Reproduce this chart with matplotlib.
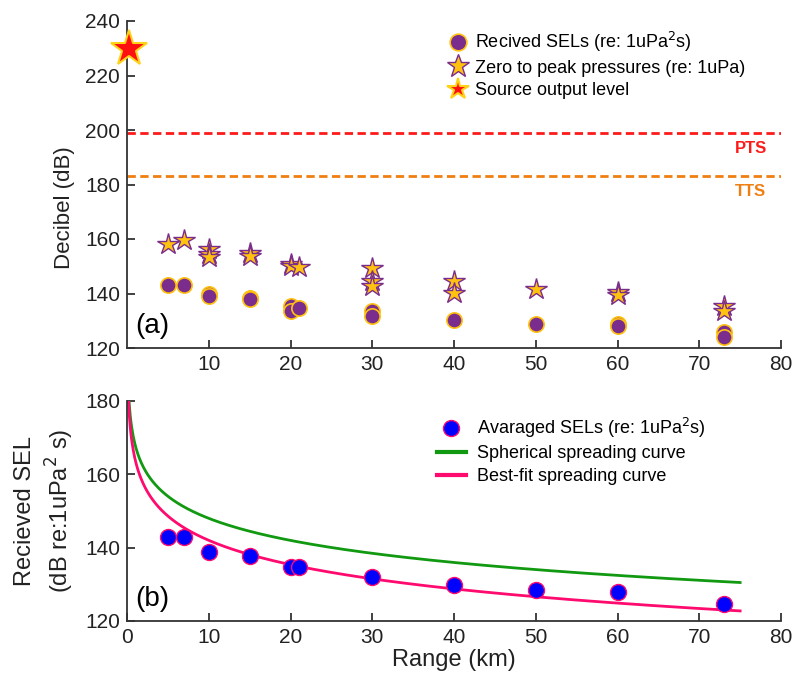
import numpy as np
import matplotlib
matplotlib.use("Agg")
import matplotlib.pyplot as plt

plt.rcParams['font.family'] = ['Liberation Sans', 'DejaVu Sans']

# ---------------- data ----------------
# Panel (a): received SELs (re: 1uPa^2 s)
sel_range = [5, 7, 10, 10, 15, 15, 20, 20, 21, 30, 30, 40, 50, 60, 60, 73, 73]
sel_value = [143.2, 143.2, 139.7, 139.0, 138.4, 137.9, 135.4, 133.6, 134.8,
             133.4, 131.8, 130.1, 128.8, 128.8, 128.0, 125.8, 123.9]
# Panel (a): zero-to-peak pressures (re: 1uPa)
pk_range = [5, 7, 10, 10, 10, 15, 15, 20, 20, 21, 30, 30, 30, 40, 40, 50, 60, 60, 73, 73]
pk_value = [158.3, 159.5, 156.2, 154.5, 153.3, 155.0, 153.8, 150.8, 150.2, 149.6,
            149.5, 144.6, 142.8, 144.6, 140.2, 141.8, 140.4, 139.3, 135.3, 133.6]
# Source output level
src_range = [0.3]
src_value = [229.8]
# Thresholds
pts_level = 199.0
tts_level = 183.0

# Panel (b): averaged SELs
avg_range = [5, 7, 10, 15, 20, 21, 30, 40, 50, 60, 73]
avg_value = [143.0, 142.8, 138.9, 137.6, 134.7, 134.8, 132.0, 129.7, 128.5, 128.0, 124.7]
# Spreading-curve parameters: SL - k*log10(r[m])
sph_sl, sph_k = 228.0, 20.0
fit_sl, fit_k = 230.0, 22.0
curve_max_range = 75.0

# ---------------- colours ----------------
purple = '#7B2D8E'
gold = '#FFC20E'
red = '#FF1A1A'
orange = '#F07F12'
blue = '#0000FF'
pink = '#FF0A6E'
green = '#119911'
spine_c = '#333333'
text_c = '#222222'

fig = plt.figure(figsize=(7.96, 6.77), dpi=100)
W, H = 796, 677
ax1 = fig.add_axes([127/W, 1-348/H, (781-127)/W, (348-21)/H])
ax2 = fig.add_axes([127/W, 1-621/H, (781-127)/W, (621-401)/H])

def style(ax):
    for s in ['top', 'right']:
        ax.spines[s].set_visible(False)
    for s in ['left', 'bottom']:
        ax.spines[s].set_color(spine_c)
        ax.spines[s].set_linewidth(1.3)
    ax.tick_params(direction='in', length=6, width=1.3, color=spine_c,
                   labelsize=15, labelcolor=text_c, pad=5)

# ---- panel (a)
style(ax1)
ax1.axhline(pts_level, color=red, ls=(0, (3, 1.6)), lw=2)
ax1.axhline(tts_level, color=orange, ls=(0, (3, 1.6)), lw=2)
ax1.text(76.3, 193.2, 'PTS', color=red, fontsize=12, fontweight='bold', ha='center', va='center')
ax1.text(76.3, 177.4, 'TTS', color=orange, fontsize=12, fontweight='bold', ha='center', va='center')
h_sel, = ax1.plot(sel_range, sel_value, 'o', ms=11, mfc=purple, mec=gold, mew=1.2, ls='none')
h_pk, = ax1.plot(pk_range, pk_value, '*', ms=16, mfc=gold, mec=purple, mew=1.0, ls='none')
h_src, = ax1.plot(src_range, src_value, '*', ms=27, mfc='#FF1010', mec='#FFD21A', mew=1.5,
                  ls='none', clip_on=False, zorder=5)
ax1.set_xlim(0, 80)
ax1.set_ylim(120, 240)
ax1.set_xticks([10, 20, 30, 40, 50, 60, 70, 80])
ax1.set_yticks([120, 140, 160, 180, 200, 220, 240])
ax1.set_ylabel('Decibel (dB)', fontsize=16, color=text_c)
ax1.yaxis.set_label_coords(-0.079, 0.428)
ax1.text(1.0, 128.0, '(a)', fontsize=20, color='black', ha='left', va='center')
leg1 = ax1.legend([h_sel, h_pk, h_src],
                  ['Recived SELs (re: 1uPa$^2$s)', 'Zero to peak pressures (re: 1uPa)',
                   'Source output level'],
                  loc='upper left', bbox_to_anchor=(0.468, 1.022), frameon=False,
                  fontsize=13, handlelength=1.0, handletextpad=0.4, labelspacing=0.3,
                  markerscale=1.0)
leg1.legend_handles[0].set_markersize(12)
leg1.legend_handles[1].set_markersize(17)
leg1.legend_handles[2].set_markersize(16)

# ---- panel (b)
style(ax2)
r_sph = np.linspace(0.1, curve_max_range, 800)
ax2.plot(r_sph, sph_sl - sph_k*np.log10(r_sph*1000), color=green, lw=2,
         label='Spherical spreading curve')
ax2.plot(r_sph, fit_sl - fit_k*np.log10(r_sph*1000), color=pink, lw=2,
         label='Best-fit spreading curve')
ax2.plot(avg_range, avg_value, 'o', ms=11.5, mfc=blue, mec=pink, mew=1.0, ls='none',
         label='Avaraged SELs (re: 1uPa$^2$s)')
ax2.set_xlim(0, 80)
ax2.set_ylim(120, 180)
ax2.set_xticks(range(0, 81, 10))
ax2.set_yticks([120, 140, 160, 180])
ax2.set_xlabel('Range (km)', fontsize=17, color=text_c)
ax2.xaxis.set_label_coords(0.5, -0.128)
ax2.set_ylabel('Recieved SEL\n(dB re:1uPa$^2$ s)', fontsize=17, color=text_c,
               linespacing=1.3)
ax2.yaxis.set_label_coords(-0.078, 0.5)
ax2.text(1.0, 126.0, '(b)', fontsize=20, color='black', ha='left', va='center')
hs, ls_ = ax2.get_legend_handles_labels()
order = [2, 0, 1]
leg2 = ax2.legend([hs[i] for i in order], [ls_[i] for i in order],
                  loc='upper left', bbox_to_anchor=(0.449, 1.006), frameon=False,
                  fontsize=13, handlelength=1.6, handletextpad=0.6, labelspacing=0.3)
leg2.legend_handles[1].set_linewidth(3)
leg2.legend_handles[2].set_linewidth(3)

fig.savefig('out.png', dpi=100)
